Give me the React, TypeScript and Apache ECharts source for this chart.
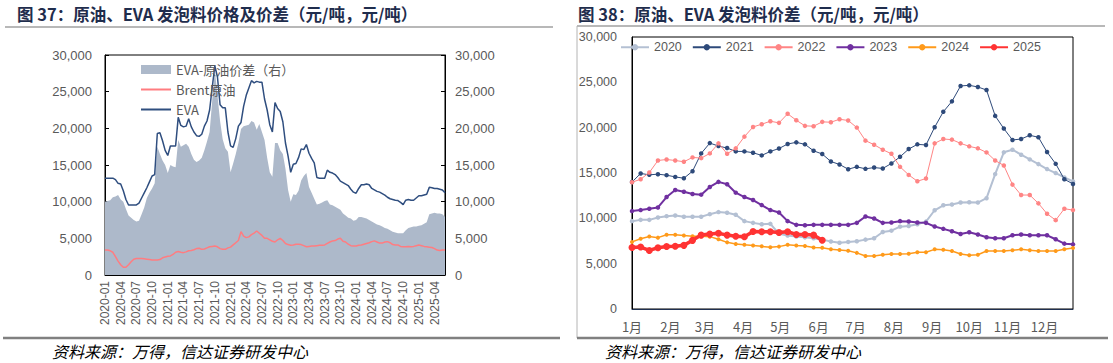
import React, { useEffect, useRef } from 'react';
import * as echarts from 'echarts';

// ---------- Left chart (semi-monthly, 2020-01-01 .. 2025-06-01) ----------
const leftDates: string[] = (() => {
  const out: string[] = [];
  for (let y = 2020; y <= 2025; y++) {
    for (let m = 1; m <= 12; m++) {
      const mm = String(m).padStart(2, '0');
      out.push(`${y}-${mm}-01`);
      if (y === 2025 && m === 6) return out;
      out.push(`${y}-${mm}-16`);
    }
  }
  return out;
})();

const evaPrice = [
  13200, 13200, 13200, 13200, 13000, 12500, 12400, 11500, 10300, 9550,
  9550, 9550, 9550, 9800, 10500, 11200, 11900, 12700, 13500, 13700,
  19300, 19400, 18300, 17000, 16300, 17600, 17600, 17600, 21500, 20400,
  20200, 20300, 21300, 20200, 19500, 19000, 18900, 19200, 20300, 21000,
  22500, 25600, 28500, 27000, 23200, 22800, 22800, 19500, 17600, 17400,
  18600, 20300, 20800, 23000, 24500, 25500, 26500, 26200, 26400, 26300,
  26300, 24000, 22500, 20500, 19500, 23500, 22700, 22300, 20900, 18000,
  16200, 14000, 15100, 15200, 16000, 17200, 17100, 17800, 16600, 15900,
  15300, 13300, 13200, 13200, 13200, 14300, 14000, 13900, 13700, 13300,
  12800, 12600, 12400, 12200, 11700, 11300, 11150, 11800, 12300, 12300,
  12400, 12300, 11800, 11600, 11400, 11300, 11100, 10900, 10600, 10400,
  10300, 10200, 10150, 9900, 9600, 10200, 10300, 10200, 10200, 10500,
  10800, 10800, 10900, 11000, 11950, 11900, 11800, 11800, 11700, 11600,
  11200,
];

const brentPrice = [
  3400, 3400, 3300, 3100, 2500, 1900, 1400, 1050, 1050, 1400,
  1800, 2150, 2250, 2250, 2250, 2200, 2150, 2100, 2050, 2050,
  2050, 2100, 2350, 2450, 2550, 2600, 2800, 3100, 3200, 3100,
  3050, 3150, 3300, 3350, 3450, 3600, 3650, 3500, 3550, 3700,
  3850, 3900, 3950, 3850, 3600, 3500, 3500, 3700, 3800, 4100,
  4400, 4700, 5900, 5300, 5100, 5200, 5500, 5700, 6000, 5700,
  5400, 5000, 5000, 4800, 4600, 4500, 4800, 5000, 4700, 4300,
  4150, 4050, 4100, 4200, 4200, 4150, 4000, 3850, 3900, 3950,
  3950, 4000, 4050, 4050, 4100, 4300, 4500, 4650, 4700, 4900,
  5000, 4600, 4500, 4200, 4000, 3950, 3950, 4050, 4100, 4200,
  4300, 4400, 4550, 4650, 4500, 4350, 4350, 4500, 4550, 4400,
  4150, 4100, 4100, 3900, 3850, 3850, 3900, 3850, 3900, 4000,
  4100, 4000, 3900, 3850, 3800, 3750, 3600, 3400, 3350, 3400,
  3400,
];

const spreadVals = [
  10000, 10100, 10200, 10600, 10700, 10900, 10300, 10000, 9000, 8100,
  7800, 7500, 7300, 7400, 8300, 9200, 10500, 11200, 11800, 12500,
  17500, 16500, 15600, 15000, 13900, 15000, 14800, 14700, 18400, 17500,
  17700, 17900, 17500, 16500, 15700, 15400, 15600, 16000, 17000, 18200,
  19500, 23800, 27900, 24500, 21000, 18500, 17300, 16800, 14000, 15200,
  16500, 18000, 19900, 20300, 20400, 20500, 21000, 20800, 19800, 20600,
  19500, 18400, 16000, 14000, 13400, 18000, 18000, 17000, 16500, 14500,
  11600, 10000, 11000, 10900, 11500, 12900, 13500, 13900, 12000, 11200,
  10400, 9600, 9700, 9900, 10100, 10200, 9600, 9500, 9300, 9100,
  8900, 8400, 8100, 7800, 7700, 7400, 7500, 7900, 7900, 7800,
  7700, 7500, 7300, 7100, 6900, 6800, 6600, 6400, 6300, 6100,
  5900, 5800, 5700, 5700, 5700, 6100, 6400, 6500, 6600, 6600,
  6700, 6800, 7000, 7200, 8300, 8400, 8500, 8400, 8400, 8300,
  7900,
];

// ---------- Right chart (weekly, 52 weeks, day-of-year axis) ----------
const monthStartDays = [0, 31, 59, 90, 120, 151, 181, 212, 243, 273, 304, 334];
const monthLabels = ['1月', '2月', '3月', '4月', '5月', '6月', '7月', '8月', '9月', '10月', '11月', '12月'];
const yearNames = ['2020', '2021', '2022', '2023', '2024', '2025'];

const y2020 = [
  9690, 9830, 9830, 10090, 10240, 10320, 10170, 10170, 10170, 10460,
  10690, 10610, 10390, 9690, 9500, 9350, 9390, 8300, 8100, 8000,
  7900, 7800, 7650, 7450, 7310, 7400, 7480, 7650, 7800, 8500,
  8640, 9080, 9160, 9340, 9640, 10890, 11440, 11520, 11740, 11780,
  11740, 12220, 14880, 17280, 17570, 17020, 16500, 15980, 15430, 14990,
  14510, 14060,
];
const y2021 = [
  14000, 14950, 14800, 14870, 14760, 14570, 14420, 15200, 17160, 18300,
  17975, 17750, 17380, 17380, 17235, 16940, 17380, 17700, 18200, 18380,
  18160, 17450, 17090, 16270, 15940, 15420, 15680, 15460, 15600, 15500,
  16050, 16790, 17640, 18160, 18090, 20050, 21750, 22900, 24600, 24670,
  24490, 24150, 21300, 19900, 18640, 18750, 19160, 18940, 17310, 16010,
  14310, 13790,
];
const y2022 = [
  13980, 14310, 15050, 16380, 16490, 16380, 16240, 16720, 16640, 17160,
  18270, 17120, 17720, 19010, 20080, 20380, 20710, 20530, 21530, 20820,
  20200, 20160, 20640, 20600, 20930, 20790, 20010, 18570, 18120, 17570,
  17120, 15680, 14790, 14090, 14390, 18270, 18750, 18680, 18270, 17940,
  17720, 17270, 16380, 15830, 13720, 12570, 12570, 11650, 10500, 9800,
  11060, 10910,
];
const y2023 = [
  10800, 10910, 11060, 11200, 12350, 13130, 12940, 12680, 12610, 13460,
  14020, 13760, 12830, 12350, 12020, 11460, 10910, 10650, 9690, 9280,
  9240, 9280, 9280, 9280, 9280, 9280, 9500, 10200, 9980, 9500,
  9540, 9690, 9650, 9540, 9500, 9100, 8840, 8580, 8280, 8470,
  8210, 7910, 7800, 7800, 8130, 8210, 8130, 8130, 8130, 7690,
  7210, 7130,
];
const y2024 = [
  7400, 7750, 8000, 7870, 8180, 8180, 8100, 8030, 8030, 7980,
  7700, 7350, 7180, 7080, 7000, 6910, 6800, 6880, 7080, 7000,
  6950, 6780, 6750, 6600, 6500, 6430, 6190, 5840, 5840, 5990,
  6070, 6070, 6100, 6250, 6250, 6580, 6540, 6400, 6070, 5920,
  5990, 6400, 6400, 6400, 6470, 6580, 6470, 6400, 6400, 6400,
  6580, 6730,
];
const y2025 = [
  6790, 6830, 6460, 6760, 6890, 6930, 7020, 7570, 8150, 8260,
  8350, 8150, 8030, 7960, 8540, 8520, 8520, 8430, 8520, 8220,
  8220, 8150, 7590,
];

const yTicks = [0, 5000, 10000, 15000, 20000, 25000, 30000];

const NUM_FONT = '"Liberation Sans", "Noto Sans CJK SC", sans-serif';
const CJK_FONT = '"Noto Sans CJK SC", "Liberation Sans", sans-serif';

function fmt(v: number) {
  return Number(v).toLocaleString('en-US');
}

function toDaily(vals: number[]) {
  const arr: (number | null)[] = new Array(358).fill(null);
  vals.forEach((v, i) => {
    arr[i * 7] = v;
  });
  return arr;
}

export default function App() {
  const ref = useRef<HTMLDivElement>(null);

  useEffect(() => {
    document.body.style.margin = '0';
    if (!ref.current) return;
    const chart = echarts.init(ref.current, undefined, { renderer: 'svg' });

    const isQuarter = (_i: number, v: string) =>
      v.endsWith('-01-01') || v.endsWith('-04-01') || v.endsWith('-07-01') || v.endsWith('-10-01');
    const dayCats = Array.from({ length: 358 }, (_, i) => String(i));
    const isMonthStart = (i: number) => monthStartDays.indexOf(i) >= 0;

    const rightColors = ['#B4C0D3', '#2E4A7A', '#FF8585', '#7030A0', '#FF9A1A', '#FF3333'];
    const rightWidths = [2, 1, 1, 2, 1.5, 3.5];
    const rightSymbol = [4.5, 4.5, 4.5, 4.5, 4, 7];
    const rightData = [y2020, y2021, y2022, y2023, y2024, y2025];

    const option: any = {
      animation: false,
      textStyle: { fontFamily: NUM_FONT },
      grid: [
        { left: 105, top: 55, width: 340, height: 220, show: true, borderColor: '#000', borderWidth: 1 },
        { left: 632, top: 37, width: 441, height: 272, show: true, borderColor: '#000', borderWidth: 1 },
      ],
      xAxis: [
        {
          type: 'category',
          gridIndex: 0,
          data: leftDates,
          boundaryGap: false,
          axisLine: { lineStyle: { color: '#000', width: 1 } },
          axisTick: { inside: true, length: 4, interval: isQuarter, lineStyle: { color: '#000' } },
          axisLabel: {
            interval: isQuarter,
            rotate: 90,
            formatter: (v: string) => v.slice(0, 7),
            fontSize: 12,
            color: '#595959',
            margin: 6,
            fontFamily: NUM_FONT,
          },
          splitLine: { show: false },
        },
        {
          type: 'category',
          gridIndex: 1,
          data: dayCats,
          boundaryGap: false,
          axisLine: { lineStyle: { color: '#1F3050', width: 1 } },
          axisTick: { show: false },
          axisLabel: {
            interval: (i: number) => isMonthStart(i),
            formatter: (v: string) => monthLabels[monthStartDays.indexOf(Number(v))] || '',
            fontSize: 13,
            color: '#595959',
            margin: 11,
            fontFamily: CJK_FONT,
          },
          splitLine: { show: false },
        },
      ],
      yAxis: [
        {
          type: 'value',
          gridIndex: 0,
          position: 'left',
          min: yTicks[0],
          max: yTicks[yTicks.length - 1],
          interval: 5000,
          axisLine: { show: true, lineStyle: { color: '#000' } },
          axisTick: { show: true, inside: true, length: 4, lineStyle: { color: '#000' } },
          axisLabel: { formatter: fmt, fontSize: 13, color: '#595959', margin: 13 },
          splitLine: { show: false },
        },
        {
          type: 'value',
          gridIndex: 0,
          position: 'right',
          min: yTicks[0],
          max: yTicks[yTicks.length - 1],
          interval: 5000,
          axisLine: { show: true, lineStyle: { color: '#000' } },
          axisTick: { show: true, inside: true, length: 4, lineStyle: { color: '#000' } },
          axisLabel: { formatter: fmt, fontSize: 13, color: '#595959', margin: 10 },
          splitLine: { show: false },
        },
        {
          type: 'value',
          gridIndex: 1,
          min: yTicks[0],
          max: yTicks[yTicks.length - 1],
          interval: 5000,
          axisLine: { show: true, lineStyle: { color: '#000' } },
          axisTick: { show: false },
          axisLabel: { formatter: fmt, fontSize: 12.5, color: '#595959', margin: 15 },
          splitLine: { show: false },
        },
      ],
      legend: [
        {
          data: [
            { name: 'EVA-原油价差（右）', icon: 'rect' },
            { name: 'Brent原油', itemStyle: { opacity: 0 } },
            { name: 'EVA', itemStyle: { opacity: 0 } },
          ],
          orient: 'vertical',
          left: 140,
          top: 63,
          itemWidth: 30,
          itemHeight: 9,
          itemGap: 7,
          padding: 0,
          textStyle: { fontSize: 13, color: '#595959', fontFamily: CJK_FONT },
        },
        {
          data: yearNames,
          left: 620,
          top: 41,
          itemWidth: 28,
          itemHeight: 8,
          itemGap: 10,
          padding: 0,
          textStyle: { fontSize: 12.5, color: '#595959', fontFamily: NUM_FONT },
        },
      ],
      graphic: [
        {
          type: 'text',
          x: 17,
          y: 14,
          style: {
            text: '图 37：原油、EVA 发泡料价格及价差（元/吨，元/吨）',
            font: 'bold 16.5px "Noto Sans CJK SC"',
            fill: '#1F2D4D',
            verticalAlign: 'middle',
            textVerticalAlign: 'middle',
          },
        },
        {
          type: 'text',
          x: 578,
          y: 14,
          style: {
            text: '图 38：原油、EVA 发泡料价差（元/吨，元/吨）',
            font: 'bold 16.5px "Noto Sans CJK SC"',
            fill: '#1F2D4D',
            verticalAlign: 'middle',
            textVerticalAlign: 'middle',
          },
        },
        { type: 'line', shape: { x1: 5, y1: 27, x2: 553, y2: 27 }, style: { stroke: '#A0A0A0', lineWidth: 1.5 } },
        { type: 'line', shape: { x1: 577, y1: 26, x2: 1105, y2: 26 }, style: { stroke: '#A0A0A0', lineWidth: 1.5 } },
        { type: 'line', shape: { x1: 577, y1: 26, x2: 577, y2: 338 }, style: { stroke: '#B4B4B4', lineWidth: 1 } },
        { type: 'line', shape: { x1: 3, y1: 338, x2: 560, y2: 338 }, style: { stroke: '#808080', lineWidth: 2.5 } },
        { type: 'line', shape: { x1: 577, y1: 338, x2: 1108, y2: 338 }, style: { stroke: '#808080', lineWidth: 2.5 } },
        {
          type: 'text',
          x: 52,
          y: 351,
          style: {
            text: '资料来源：万得，信达证券研发中心',
            font: 'italic 16px "Noto Sans CJK SC"',
            fill: '#000',
            verticalAlign: 'middle',
            textVerticalAlign: 'middle',
          },
        },
        {
          type: 'text',
          x: 605,
          y: 351,
          style: {
            text: '资料来源：万得，信达证券研发中心',
            font: 'italic 16px "Noto Sans CJK SC"',
            fill: '#000',
            verticalAlign: 'middle',
            textVerticalAlign: 'middle',
          },
        },
      ],
      series: [
        {
          name: 'EVA-原油价差（右）',
          type: 'line',
          xAxisIndex: 0,
          yAxisIndex: 1,
          data: spreadVals,
          symbol: 'none',
          lineStyle: { width: 0, color: '#ADB9CA' },
          areaStyle: { color: '#ADB9CA', opacity: 1 },
          itemStyle: { color: '#ADB9CA' },
          z: 1,
        },
        {
          name: 'Brent原油',
          type: 'line',
          xAxisIndex: 0,
          yAxisIndex: 0,
          data: brentPrice,
          symbol: 'none',
          lineStyle: { width: 1.5, color: '#FF7C80' },
          itemStyle: { color: '#FF7C80' },
          z: 3,
        },
        {
          name: 'EVA',
          type: 'line',
          xAxisIndex: 0,
          yAxisIndex: 0,
          data: evaPrice,
          symbol: 'none',
          lineStyle: { width: 1.5, color: '#2F4E7F' },
          itemStyle: { color: '#2F4E7F' },
          z: 3,
        },
        ...yearNames.map((name, k) => ({
          name,
          type: 'line',
          xAxisIndex: 1,
          yAxisIndex: 2,
          data: toDaily(rightData[k]),
          connectNulls: true,
          showAllSymbol: true,
          symbol: 'circle',
          symbolSize: rightSymbol[k],
          lineStyle: { width: rightWidths[k], color: rightColors[k] },
          itemStyle: { color: rightColors[k] },
          z: 3 + k,
        })),
      ],
    };

    chart.setOption(option);
    return () => {
      chart.dispose();
    };
  }, []);

  return <div ref={ref} style={{ width: 1113, height: 363 }} />;
}
